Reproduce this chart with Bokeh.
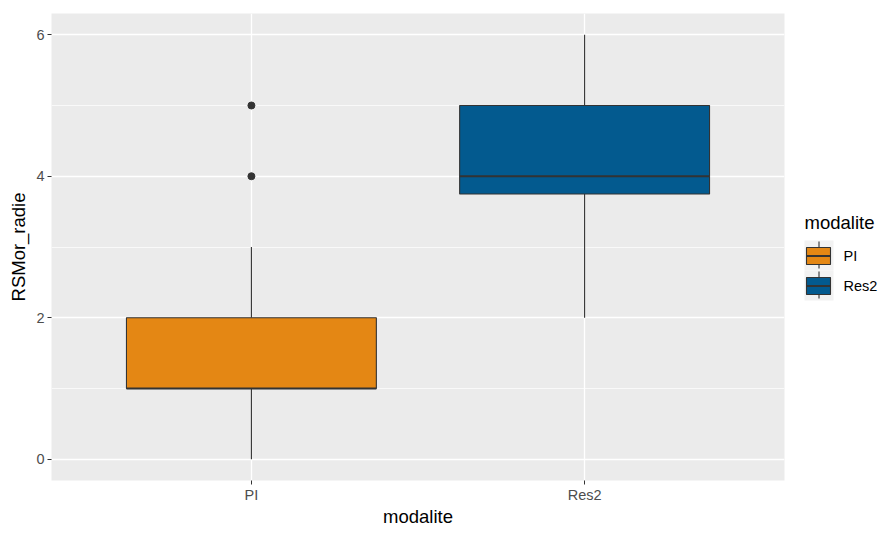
from bokeh.plotting import figure
from bokeh.layouts import row
from bokeh.models import FixedTicker, FactorRange, Range1d
from bokeh.core.properties import value
from bokeh.embed import file_html
from bokeh.resources import INLINE

categories = ["PI", "Res2"]
q1 = [1.0, 3.75]
median = [1.0, 4.0]
q3 = [2.0, 5.0]
whisker_low = [0.0, 2.0]
whisker_high = [3.0, 6.0]
box_colors = ["#E48714", "#035A8F"]
outlier_group = ["PI", "PI"]
outlier_values = [4.0, 5.0]
y_ticks = [0, 2, 4, 6]
y_minor = [1, 3, 5]
legend_title = "modalite"

FONT = "Liberation Sans"
EDGE = "#333333"
H = 529
TOP_B, BOT_B = 13, 49

# ---------------- main panel ----------------
p = figure(
    width=800, height=H,
    x_range=FactorRange(*categories, range_padding=0.1, range_padding_units="absolute"),
    y_range=Range1d(-0.3, 6.3),
    output_backend="svg", toolbar_location=None,
    min_border_left=51, min_border_right=16, min_border_top=TOP_B, min_border_bottom=BOT_B,
)
p.background_fill_color = "#EBEBEB"
p.border_fill_color = "white"
p.outline_line_color = None

p.xgrid.grid_line_color = "white"
p.xgrid.grid_line_width = 1.3
p.ygrid.ticker = FixedTicker(ticks=y_ticks, minor_ticks=y_minor)
p.yaxis.ticker = FixedTicker(ticks=y_ticks, minor_ticks=y_minor)
p.ygrid.grid_line_color = "white"
p.ygrid.grid_line_width = 1.3
p.ygrid.minor_grid_line_color = "white"
p.ygrid.minor_grid_line_width = 0.7

for ax in (p.xaxis, p.yaxis):
    ax.axis_line_color = None
    ax.major_tick_line_color = EDGE
    ax.major_tick_out = 4
    ax.major_tick_in = 0
    ax.minor_tick_line_color = None
    ax.major_label_text_color = "#4D4D4D"
    ax.major_label_text_font = FONT
    ax.major_label_text_font_size = "14.5px"
    ax.axis_label_text_font = FONT
    ax.axis_label_text_font_size = "18.5px"
    ax.axis_label_text_font_style = "normal"
    ax.axis_label_text_color = "black"
p.xaxis.axis_label = "modalite"
p.yaxis.axis_label = "RSMor_radie"
p.xaxis.major_label_standoff = 2
p.xaxis.axis_label_standoff = 0
p.yaxis.major_label_standoff = 3
p.yaxis.axis_label_standoff = 4

for i, cat in enumerate(categories):
    p.segment(x0=[cat, cat], y0=[whisker_low[i], q3[i]], x1=[cat, cat], y1=[q1[i], whisker_high[i]],
              line_color=EDGE, line_width=1.1)
    p.vbar(x=[cat], width=0.75, bottom=[q1[i]], top=[q3[i]],
           fill_color=box_colors[i], line_color=EDGE, line_width=1.1)
    p.segment(x0=[(cat, -0.375)], x1=[(cat, 0.375)], y0=[median[i]], y1=[median[i]],
              line_color=EDGE, line_width=2.2)

p.scatter(x=outlier_group, y=outlier_values, size=7, color=EDGE)

# ---------------- legend (drawn in pixel space of a side figure) ----------------
# the side figure's frame is aligned with the main frame, so its y range
# is given in page pixels of that frame (top = TOP_B, bottom = H - BOT_B)
LX0, LW = 800, 79
KEY_LEFT, KEY_W, KEY_H, KEY_TOP = 804, 29, 30, 240

lg = figure(
    width=LW, height=H,
    x_range=Range1d(LX0, LX0 + LW), y_range=Range1d(H - BOT_B, TOP_B),
    output_backend="svg", toolbar_location=None,
    x_axis_type=None, y_axis_type=None,
    min_border=0, min_border_top=TOP_B, min_border_bottom=BOT_B,
)
lg.outline_line_color = None
lg.grid.visible = False
lg.background_fill_color = "white"
lg.border_fill_color = "white"

tops = [KEY_TOP + KEY_H * i for i in range(len(categories))]
bottoms = [t + KEY_H for t in tops]
mids = [t + KEY_H / 2 for t in tops]
cx = KEY_LEFT + KEY_W / 2
lg.quad(left=[KEY_LEFT] * len(tops), right=[KEY_LEFT + KEY_W] * len(tops), top=tops, bottom=bottoms,
        fill_color="#F2F2F2", line_color=None)
lg.segment(x0=[cx] * len(tops), x1=[cx] * len(tops), y0=[t + 1 for t in tops], y1=[b - 2 for b in bottoms],
           line_color=EDGE, line_width=1.1)
lg.quad(left=[KEY_LEFT + 2] * len(tops), right=[KEY_LEFT + KEY_W - 3] * len(tops),
        top=[t + 7 for t in tops], bottom=[t + 24 for t in tops],
        fill_color=box_colors, line_color=EDGE, line_width=1.1)
lg.segment(x0=[KEY_LEFT + 2] * len(tops), x1=[KEY_LEFT + KEY_W - 3] * len(tops),
           y0=[m + 0.5 for m in mids], y1=[m + 0.5 for m in mids], line_color=EDGE, line_width=2)
lg.text(x=[KEY_LEFT + KEY_W + 10] * len(tops), y=mids, text=categories,
        text_font=value(FONT), text_font_size="14.5px", text_color="black",
        text_baseline="middle", text_align="left")
lg.text(x=[KEY_LEFT], y=[KEY_TOP - 18], text=[legend_title],
        text_font=value(FONT), text_font_size="18.5px", text_color="black",
        text_baseline="middle", text_align="left")

layout = row(p, lg, spacing=0)
open("out.html", "w").write(file_html(layout, INLINE))
